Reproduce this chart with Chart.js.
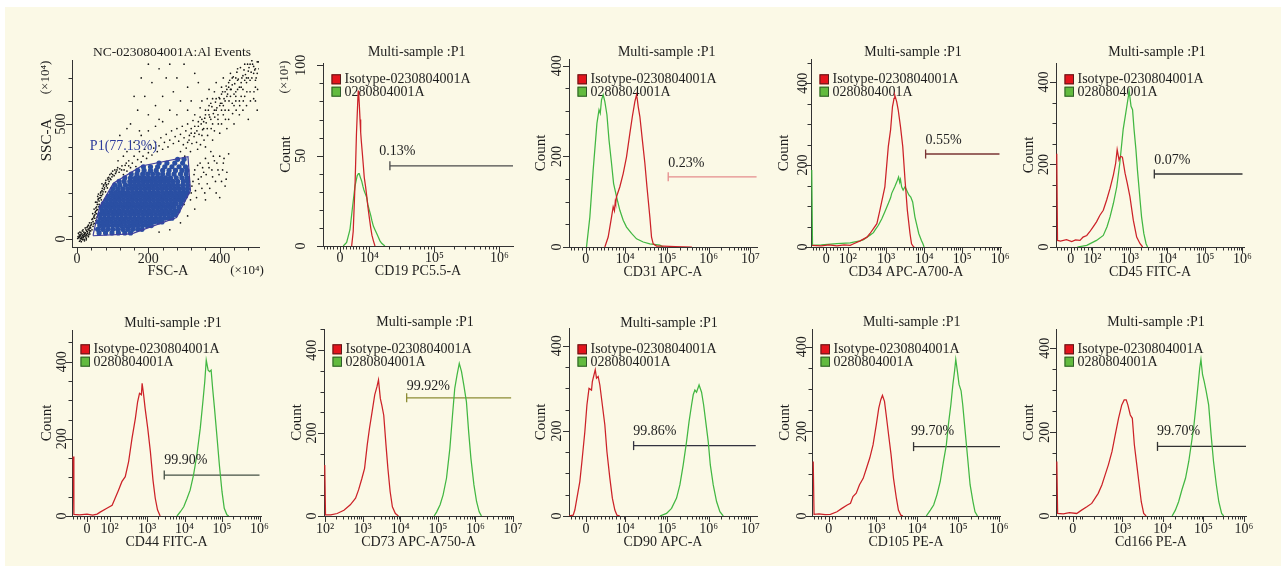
<!DOCTYPE html>
<html><head><meta charset="utf-8">
<script src="https://cdn.jsdelivr.net/npm/chart.js@4.4.1/dist/chart.umd.min.js"></script>
<style>
html,body{margin:0;padding:0;background:#ffffff;}
#bg{position:absolute;left:5px;top:7px;width:1276px;height:559px;background:#fbf9e6;}
#wrap{position:absolute;left:0;top:0;width:1286px;height:573px;overflow:hidden;}
canvas{position:absolute;}
</style></head><body><div id="bg"></div><div id="wrap"></div>
<script>
// ---------- scatter (FSC-A vs SSC-A, units ×10^4) ----------
const scatXLabPos = [0, 200, 400];
const scatXLab = ['0', '200', '400'];
const scatYLabPos = [0, 500];
const scatYLab = ['0', '500'];
const gateP1X = [45, 153, 279, 318, 311, 181, 102, 64, 50, 45];
const gateP1Y = [14, 22, 93, 210, 358, 317, 242, 140, 53, 14];
const blackPts = [
 [5,5],[8,12],[10,3],[12,8],[15,15],[6,18],[18,6],[20,12],[14,22],[22,20],[9,-5],[16,-3],[25,8],[11,28],[24,26],[28,15],[19,30],[3,10],[13,0],[30,25],[7,-10],[21,-8],[27,35],[17,40],[33,18],[35,30],[4,25],[26,2],[31,42],[23,48],
 [2,2],[6,8],[9,15],[11,20],[14,5],[17,10],[19,18],[21,25],[24,14],[27,20],[29,32],[15,35],[8,30],[20,-2],[12,-12],[26,-4],[32,10],[34,38],[36,22],[38,35],
 [30,55],[35,70],[40,62],[42,85],[45,75],[48,100],[50,90],[52,120],[54,110],[55,140],[58,128],[57,150],[62,165],[60,175],[66,180],[68,170],[72,195],[70,210],[76,215],[80,205],[82,230],[85,222],[88,240],[90,250],[95,258],[98,270],[104,275],[108,285],[112,300],[118,290],[45,55],[38,48],[42,40],[36,52],[50,68],[53,80],[56,95],[48,130],[52,160],[60,195],[66,200],[74,230],[80,245],[86,265],[92,280],[100,295],[62,150],[58,185],[44,110],[70,240],
 [25,40],[28,50],[32,60],[34,46],[38,58],[40,70],[44,88],[46,65],[47,95],[50,105],[51,115],[53,135],[55,125],[56,160],[59,170],[61,140],[63,178],[65,190],[67,205],[69,188],[71,220],[73,205],[75,235],[77,222],[79,240],[81,255],[83,236],[87,258],[89,268],[93,262],[96,285],[100,280],[106,300],[110,292],[114,310],[120,305],[126,318],[132,300],[138,330],[145,318],
 [125,300],[130,280],[135,320],[140,295],[145,340],[150,310],[155,330],[160,360],[165,315],[170,345],[175,380],[180,335],[185,360],[190,390],[195,350],[200,375],[205,410],[210,365],[215,395],[220,420],[225,380],[230,405],[235,440],[240,390],[245,420],[250,455],[255,400],[260,430],[265,470],[270,415],[275,445],[280,480],[285,425],[290,455],[295,490],[300,440],[305,470],[310,500],[315,450],[320,480],[325,515],[330,460],[140,380],[160,420],[180,450],[200,470],[220,490],[240,510],[115,340],[130,360],
 [335,420],[340,490],[345,530],[350,450],[355,510],[360,560],[365,480],[370,540],[375,590],[380,500],[385,560],[390,610],[395,520],[400,580],[405,630],[410,540],[415,600],[420,650],[425,560],[430,620],[435,670],[440,580],[445,640],[450,690],[455,600],[460,660],[465,710],[470,620],[475,680],[480,730],[485,640],[490,700],[495,750],[500,660],[505,720],[508,770],[350,600],[370,650],[390,680],[410,700],[430,720],[450,740],[470,760],[490,775],[455,540],[475,580],[495,610],[505,560],[440,500],[420,480],[400,460],[380,430],[360,400],[480,520],[500,600],[465,560],[445,600],[425,520],[405,500],[385,470],[445,700],[425,680],[405,660],[385,640],[365,610],[345,570],[330,540],[500,690],[510,740],[485,690],[460,620],[435,590],[415,560],[395,540],[375,520],[355,480],
 [290,380],[298,410],[306,395],[314,430],[322,415],[328,445],[336,470],[342,455],[348,500],[352,475],[358,525],[362,505],[368,560],[372,530],[378,575],[382,545],[388,595],[392,570],[398,615],[402,590],[408,640],[412,610],[418,665],[422,630],[428,690],[432,650],[438,705],[442,675],[448,725],[452,695],[458,745],[462,700],[468,735],[472,715],[478,760],[482,745],[488,725],[492,760],[498,735],[502,700],[506,650],[496,640],[486,600],[476,640],[466,600],[456,580],[446,560],[436,545],[426,600],[416,520],[406,590],[396,500],[386,530],[376,480],[366,450],[356,430],[346,410],[338,390],[318,380],[302,360],[470,690],[480,700],[460,680],[450,650],[440,630],[430,650],[420,620],[410,580],[400,610],[390,560],[380,610],[370,580],[360,540],[350,520],[340,510],[330,490],[320,460],[310,420],[500,740],[505,770],[495,720],[485,760],[475,700],[465,650],[455,660],[445,620],[435,700],[425,660],[415,640],[405,560],
 [150,500],[170,560],[190,620],[210,680],[230,740],[250,700],[270,640],[290,600],[310,660],[330,720],[160,620],[180,700],[200,760],[220,580],[240,620],[260,560],[280,700],[300,760],[320,600],[340,680],[200,540],[260,760],[230,520],[280,540],[310,560],[120,450],[140,480],[175,470],
 [320,200],[325,250],[330,300],[335,180],[340,260],[345,330],[350,220],[355,290],[360,350],[365,240],[370,310],[375,380],[380,270],[385,340],[390,200],[395,300],[400,360],[405,250],[410,330],[420,290],[425,370],[415,230],[360,170],[400,180],
 [318,170],[322,230],[328,280],[332,210],[338,320],[342,240],[348,270],[352,310],[358,200],[362,280],[368,330],[372,220],[378,300],[382,360],[388,250],[392,330],[398,280],[408,300],[412,350],[418,260],
 [260,40],[290,70],[310,100],[330,130],[230,30],[300,150]
];
const blueRowY = [26,42,58,74,90,106,122,138,154,170,186,202,218,234,250,266,282,298,314,330,346];
const blueRowX = [
 [62,80,98,116,134,150],
 [58,72,86,100,114,128,142,156,170,182],
 [64,76,88,100,112,124,136,148,160,172,184,196,208],
 [60,72,84,96,108,120,132,144,156,168,180,192,204,216,228,238],
 [66,78,90,102,114,126,138,150,162,174,186,198,210,222,234,246,258,266],
 [64,76,88,100,112,124,136,148,160,172,184,196,208,220,232,244,256,268,276],
 [70,82,94,106,118,130,142,154,166,178,190,202,214,226,238,250,262,274,283],
 [68,80,92,104,116,128,140,152,164,176,188,200,212,224,236,248,260,272,286],
 [74,86,98,110,122,134,146,158,170,182,194,206,218,230,242,254,266,278,292],
 [82,94,106,118,130,142,154,166,178,190,202,214,226,238,250,262,274,286,298],
 [88,100,112,124,136,148,160,172,184,196,208,220,232,244,256,268,280,292,304],
 [96,108,120,132,144,156,168,180,192,204,216,228,240,252,264,276,288,300,309],
 [100,114,128,142,154,166,178,190,202,214,226,238,250,262,274,286,298,310],
 [106,120,136,150,162,174,186,198,210,222,234,246,258,270,282,296,310],
 [118,132,148,160,172,184,196,208,220,232,244,256,268,282,298,310],
 [134,150,164,176,188,200,212,224,236,248,262,278,294,308],
 [152,168,184,198,212,226,240,256,272,290,306],
 [170,188,206,222,240,258,276,294,308],
 [186,206,226,246,266,286,304],
 [230,252,274,296],
 [282,300]
];

// ---------- histograms: [display position (decades), count] ----------
const cd19Iso = [[3.726,0],[3.75,8],[3.78,36],[3.80,62],[3.82,80],[3.828,86],[3.835,84],[3.843,79],[3.855,70],[3.865,63],[3.875,58],[3.889,52],[3.905,45],[3.92,38],[3.94,33],[3.957,28],[3.975,22],[3.997,16],[4.02,10],[4.038,6],[4.06,3],[4.085,0]];
const cd19Pos = [[3.597,0],[3.649,2],[3.70,9],[3.741,22],[3.777,33],[3.80,37],[3.812,39],[3.83,40],[3.843,40],[3.86,38],[3.88,36],[3.90,33],[3.915,31],[3.935,29],[3.957,27],[3.975,23],[3.997,20],[4.02,17],[4.038,14],[4.06,11],[4.085,9],[4.11,7],[4.136,5],[4.16,3],[4.188,1.5],[4.238,0]];
const cd31Iso = [[3.51,0],[3.59,22],[3.67,66],[3.71,89],[3.74,80],[3.76,100],[3.77,96],[3.79,111],[3.87,133],[3.95,162],[4.03,199],[4.11,251],[4.17,288],[4.23,321],[4.27,336],[4.29,325],[4.31,310],[4.35,288],[4.41,236],[4.47,185],[4.52,133],[4.59,66],[4.63,22],[4.67,7],[4.75,2],[4.9,2],[5.2,1],[5.6,0]];
const cd31Pos = [[3.07,0],[3.15,66],[3.23,170],[3.32,273],[3.37,303],[3.40,295],[3.43,325],[3.47,336],[3.51,321],[3.56,292],[3.61,236],[3.67,185],[3.72,140],[3.79,111],[3.87,81],[3.95,59],[4.03,44],[4.15,30],[4.27,18],[4.43,11],[4.59,7],[4.83,4],[4.91,0]];
const cd34Iso = [[1.06,4],[1.3,3],[1.5,5],[1.71,3],[1.9,5],[2.06,4],[2.15,8],[2.32,15],[2.50,24],[2.58,33],[2.67,45],[2.76,57],[2.83,86],[2.97,147],[3.06,245],[3.12,286],[3.17,343],[3.19,352],[3.21,363],[3.23,371],[3.28,355],[3.32,335],[3.38,294],[3.44,245],[3.50,163],[3.56,90],[3.63,33],[3.67,8],[3.71,2],[3.73,0]];
const cd34Pos = [[1.05,188],[1.07,4],[1.3,5],[1.71,8],[2.06,10],[2.15,12],[2.32,15],[2.41,18],[2.50,24],[2.58,29],[2.67,35],[2.71,41],[2.80,53],[2.89,69],[2.97,86],[3.06,106],[3.12,120],[3.15,131],[3.23,147],[3.30,163],[3.33,171],[3.36,158],[3.38,165],[3.41,147],[3.45,139],[3.50,147],[3.54,139],[3.60,127],[3.65,122],[3.70,110],[3.76,73],[3.80,57],[3.86,33],[3.93,16],[3.97,8],[4.0,0]];
const cd45Iso = [[1.05,226],[1.07,16],[1.15,14],[1.31,18],[1.45,13],[1.55,17],[1.67,16],[1.75,24],[1.85,28],[1.93,37],[2.02,49],[2.11,61],[2.20,77],[2.29,89],[2.38,114],[2.47,142],[2.56,175],[2.62,203],[2.66,236],[2.71,211],[2.75,220],[2.80,218],[2.87,179],[2.93,154],[3.00,122],[3.09,65],[3.18,24],[3.27,8],[3.34,0]];
const cd45Pos = [[1.60,0],[1.85,4],[2.11,16],[2.29,28],[2.39,49],[2.47,73],[2.56,106],[2.65,146],[2.73,203],[2.82,285],[2.89,325],[2.96,366],[2.98,378],[3.03,341],[3.07,333],[3.11,285],[3.16,236],[3.20,187],[3.27,114],[3.31,73],[3.37,33],[3.43,8],[3.47,0]];
const cd44Iso = [[1.03,154],[1.05,4],[1.2,3],[1.4,5],[1.55,2],[1.67,5],[1.75,10],[1.93,20],[2.07,28],[2.15,46],[2.24,67],[2.33,89],[2.42,102],[2.51,141],[2.60,201],[2.69,253],[2.75,296],[2.80,318],[2.85,314],[2.87,344],[2.91,314],[2.95,279],[3.02,227],[3.09,167],[3.16,93],[3.22,46],[3.28,16],[3.35,0]];
const cd44Pos = [[3.80,0],[3.89,11],[3.98,24],[4.07,46],[4.15,67],[4.24,106],[4.33,158],[4.42,227],[4.49,296],[4.54,348],[4.58,404],[4.63,378],[4.67,374],[4.71,378],[4.75,331],[4.80,279],[4.87,201],[4.93,132],[5.00,63],[5.06,20],[5.13,3],[5.18,0]];
const cd73Iso = [[1.99,123],[2.01,3],[2.15,3],[2.32,6],[2.50,14],[2.67,27],[2.81,43],[2.89,63],[2.98,91],[3.05,115],[3.12,171],[3.18,211],[3.25,251],[3.32,292],[3.38,312],[3.42,328],[3.47,283],[3.51,267],[3.56,243],[3.62,171],[3.67,115],[3.73,59],[3.79,22],[3.87,6],[3.95,0]];
const cd73Pos = [[4.90,0],[4.97,10],[5.06,27],[5.14,51],[5.23,91],[5.32,163],[5.39,243],[5.45,308],[5.51,340],[5.57,368],[5.63,348],[5.69,316],[5.76,276],[5.82,203],[5.88,139],[5.96,75],[6.03,35],[6.10,10],[6.16,0]];
const cd90Iso = [[2.65,0],[2.75,2],[2.79,14],[2.84,42],[2.91,81],[2.96,128],[3.03,198],[3.08,261],[3.13,300],[3.19,296],[3.21,316],[3.24,328],[3.28,344],[3.31,324],[3.35,328],[3.39,308],[3.45,261],[3.51,214],[3.56,151],[3.63,89],[3.69,42],[3.75,14],[3.80,2],[3.87,0]];
const cd90Pos = [[4.83,0],[4.99,6],[5.11,18],[5.23,42],[5.31,73],[5.39,120],[5.47,175],[5.53,222],[5.59,261],[5.63,285],[5.67,296],[5.71,291],[5.77,308],[5.83,291],[5.88,261],[5.93,222],[5.99,175],[6.04,120],[6.11,73],[6.19,34],[6.27,10],[6.35,0]];
const cd105Iso = [[1.46,129],[1.48,4],[1.6,5],[1.75,3],[1.88,4],[2.04,10],[2.16,18],[2.29,26],[2.37,30],[2.43,46],[2.51,54],[2.59,74],[2.68,89],[2.76,113],[2.84,137],[2.92,168],[3.00,216],[3.06,255],[3.11,275],[3.15,285],[3.20,271],[3.24,240],[3.30,192],[3.36,145],[3.42,89],[3.49,42],[3.54,14],[3.60,2],[3.65,0]];
const cd105Pos = [[4.22,0],[4.32,14],[4.40,26],[4.48,50],[4.56,81],[4.64,129],[4.71,168],[4.76,216],[4.82,263],[4.87,311],[4.91,342],[4.94,370],[4.98,342],[5.02,311],[5.07,296],[5.11,263],[5.17,200],[5.23,137],[5.29,74],[5.36,34],[5.41,10],[5.47,0]];
const cd166Iso = [[1.39,130],[1.41,6],[1.55,5],[1.7,8],[1.88,6],[2.00,14],[2.13,22],[2.25,30],[2.33,42],[2.41,54],[2.50,74],[2.58,98],[2.66,122],[2.75,154],[2.83,194],[2.91,233],[2.99,265],[3.05,277],[3.10,277],[3.14,265],[3.20,241],[3.25,233],[3.30,170],[3.36,122],[3.42,74],[3.47,34],[3.53,6],[3.59,0]];
const cd166Pos = [[4.23,0],[4.31,14],[4.39,34],[4.47,62],[4.56,90],[4.64,130],[4.70,170],[4.76,210],[4.82,265],[4.87,313],[4.91,353],[4.94,373],[4.98,337],[5.02,321],[5.07,297],[5.13,265],[5.19,194],[5.25,130],[5.32,74],[5.38,34],[5.45,6],[5.50,0]];

// gates: [start, end, count level] and percentages
const cd19Gate = [4.315, 6.21, 44.4], cd19Pct = '0.13%';
const cd31Gate = [5.03, 7.15, 155], cd31Pct = '0.23%';
const cd34Gate = [4.04, 5.98, 227], cd34Pct = '0.55%';
const cd45Gate = [3.65, 6.0, 177], cd45Pct = '0.07%';
const cd44Gate = [3.46, 6.0, 106], cd44Pct = '99.90%';
const cd73Gate = [4.17, 6.95, 285], cd73Pct = '99.92%';
const cd90Gate = [4.2, 7.13, 165.5], cd90Pct = '99.86%';
const cd105Gate = [3.91, 6.02, 164], cd105Pct = '99.70%';
const cd166Gate = [3.87, 6.05, 166], cd166Pct = '99.70%';

// tick labels
const cd19XPos = [3.546, 4, 5, 6], cd19XLab = ['0','10⁴','10⁵','10⁶'];
const cd31XPos = [3.05, 4, 5, 6, 7], cd31XLab = ['0','10⁴','10⁵','10⁶','10⁷'];
const cd34XPos = [1.43, 2, 3, 4, 5, 6], cd34XLab = ['0','10²','10³','10⁴','10⁵','10⁶'];
const cd45XPos = [1.42, 2, 3, 4, 5, 6], cd45XLab = ['0','10²','10³','10⁴','10⁵','10⁶'];
const cd44XPos = [1.4, 2, 3, 4, 5, 6], cd44XLab = ['0','10²','10³','10⁴','10⁵','10⁶'];
const cd73XPos = [2, 3, 4, 5, 6, 7], cd73XLab = ['10²','10³','10⁴','10⁵','10⁶','10⁷'];
const cd90XPos = [3.06, 4, 5, 6, 7], cd90XLab = ['0','10⁴','10⁵','10⁶','10⁷'];
const cd105XPos = [1.84, 3, 4, 5, 6], cd105XLab = ['0','10³','10⁴','10⁵','10⁶'];
const cd166XPos = [1.78, 3, 4, 5, 6], cd166XLab = ['0','10³','10⁴','10⁵','10⁶'];
const cd19YPos = [0, 50, 100], cd19YLab = ['0','50','100'];
const countYPos = [0, 200, 400], countYLab = ['0','200','400'];
const seriesNames = ['Isotype-0230804001A', '0280804001A'];

// ---------- layout / style ----------
Chart.defaults.font.family = "'Liberation Serif','Times New Roman',serif";
Chart.defaults.font.size = 14;
Chart.defaults.color = '#1e1e1e';
const SERIF = "'Liberation Serif','Times New Roman',serif";
const RED = '#cc2228', GREEN = '#42b742';

const panels = [
 {box:[323,63,513,246], xmin:3.285, xmax:6.21, xPos:cd19XPos, xLab:cd19XLab, zero:3.546, lin:0.05, logStart:4,
  ymax:101.3, yStep:10, yPos:cd19YPos, yLab:cd19YLab, yPad:11, ytPad:2.4, xtPad:2.3, xlPad:4,
  iso:cd19Iso, pos:cd19Pos, gate:cd19Gate, pct:cd19Pct, gateColor:'#4a4a4a', pctAt:[4.15,52.3],
  xTitle:'CD19 PC5.5-A', title:[416.7,52], legTop:74.3, unit:['(×10¹)',285,77]},
 {box:[569,59,757,247], xmin:2.65, xmax:7.16, xPos:cd31XPos, xLab:cd31XLab, zero:3.05, lin:0.09, logStart:4,
  ymax:415, yStep:50, yPos:countYPos, yLab:countYLab, yPad:1.5, ytPad:11.4, xtPad:2.3, xlPad:4,
  iso:cd31Iso, pos:cd31Pos, gate:cd31Gate, pct:cd31Pct, gateColor:'#e58c8c', pctAt:[5.03,184],
  xTitle:'CD31 APC-A', title:[666.7,52], legTop:74.3},
 {box:[811,59,1001,247], xmin:1.03, xmax:6.02, xPos:cd34XPos, xLab:cd34XLab, zero:1.43, lin:0.09, logStart:2,
  ymax:459, yStep:50, yPos:countYPos, yLab:countYLab, yPad:-2.5, ytPad:12.3, xtPad:2.3, xlPad:4,
  iso:cd34Iso, pos:cd34Pos, gate:cd34Gate, pct:cd34Pct, gateColor:'#7a3434', pctAt:[4.04,261],
  xTitle:'CD34 APC-A700-A', title:[913,52.5], legTop:74.3},
 {box:[1056,63,1244,247], xmin:1.03, xmax:6.04, xPos:cd45XPos, xLab:cd45XLab, zero:1.42, lin:0.09, logStart:2,
  ymax:446, yStep:50, yPos:countYPos, yLab:countYLab, yPad:1.5, ytPad:12.3, xtPad:2.3, xlPad:4,
  iso:cd45Iso, pos:cd45Pos, gate:cd45Gate, pct:cd45Pct, gateColor:'#333333', pctAt:[3.65,211],
  xTitle:'CD45 FITC-A', title:[1157,52.5], legTop:74.3},
 {box:[72,330,261,516], xmin:1.0, xmax:6.04, xPos:cd44XPos, xLab:cd44XLab, zero:1.4, lin:0.09, logStart:2,
  ymax:482, yStep:50, yPos:countYPos, yLab:countYLab, yPad:-0.5, ytPad:14, xtPad:1.3, xlPad:5,
  iso:cd44Iso, pos:cd44Pos, gate:cd44Gate, pct:cd44Pct, gateColor:'#445044', pctAt:[3.46,143],
  xTitle:'CD44 FITC-A', title:[173,323], legTop:344.3},
 {box:[324,329,513,516], xmin:1.97, xmax:7.0, xPos:cd73XPos, xLab:cd73XLab, zero:null, lin:0, logStart:2,
  ymax:451, yStep:50, yPos:countYPos, yLab:countYLab, yPad:0.8, ytPad:12.3, xtPad:1.3, xlPad:5,
  iso:cd73Iso, pos:cd73Pos, gate:cd73Gate, pct:cd73Pct, gateColor:'#8c8c34', pctAt:[4.17,312],
  xTitle:'CD73 APC-A750-A', title:[425,322.5], legTop:344.3},
 {box:[569,328,757,516], xmin:2.65, xmax:7.16, xPos:cd90XPos, xLab:cd90XLab, zero:3.06, lin:0.09, logStart:4,
  ymax:442, yStep:50, yPos:countYPos, yLab:countYLab, yPad:1.5, ytPad:11.4, xtPad:1.3, xlPad:5,
  iso:cd90Iso, pos:cd90Pos, gate:cd90Gate, pct:cd90Pct, gateColor:'#333340', pctAt:[4.19,198],
  xTitle:'CD90 APC-A', title:[669,323], legTop:344.3},
 {box:[812,329,1000,516], xmin:1.43, xmax:6.02, xPos:cd105XPos, xLab:cd105XLab, zero:1.84, lin:0.09, logStart:2,
  ymax:442, yStep:50, yPos:countYPos, yLab:countYLab, yPad:-0.5, ytPad:12.3, xtPad:1.3, xlPad:5,
  iso:cd105Iso, pos:cd105Pos, gate:cd105Gate, pct:cd105Pct, gateColor:'#333333', pctAt:[3.85,200],
  xTitle:'CD105 PE-A', title:[911.7,322.5], legTop:344.3},
 {box:[1056,329,1246,516], xmin:1.37, xmax:6.05, xPos:cd166XPos, xLab:cd166XLab, zero:1.78, lin:0.09, logStart:2,
  ymax:446, yStep:50, yPos:countYPos, yLab:countYLab, yPad:0.5, ytPad:12.3, xtPad:1.3, xlPad:5,
  iso:cd166Iso, pos:cd166Pos, gate:cd166Gate, pct:cd166Pct, gateColor:'#333333', pctAt:[3.86,201.5],
  xTitle:'Cd166 PE-A', title:[1156,322.5], legTop:344.3}
];

function makeCanvas(box) {
  const [L,T,R,B] = box;
  const c = document.createElement('canvas');
  const w = R - L + 72, h = B - T + 90;
  c.width = w; c.height = h;
  c.style.left = (L - 56) + 'px'; c.style.top = (T - 50) + 'px';
  c.style.width = w + 'px'; c.style.height = h + 'px';
  document.getElementById('wrap').appendChild(c);
  return {c, ox: L - 56, oy: T - 50};
}

function buildXTicks(p) {
  const out = p.xPos.map((v, i) => ({value: v, major: true, lab: p.xLab[i]}));
  const minors = [];
  if (p.lin) {
    for (let v = p.zero - p.lin; v >= p.xmin; v -= p.lin) minors.push(v);
    for (let v = p.zero + p.lin; v < p.logStart - 0.03; v += p.lin) minors.push(v);
  }
  for (let d = p.logStart; d < p.xmax; d++) {
    minors.push(d);
    for (let k = 2; k <= 9; k++) minors.push(d + Math.log10(k));
  }
  minors.forEach(v => {
    if (v < p.xmin || v > p.xmax) return;
    if (out.some(o => Math.abs(o.value - v) < 0.03)) return;
    out.push({value: v, major: false, lab: ''});
  });
  return out.sort((a, b) => a.value - b.value);
}
function buildYTicks(max, step, pos, lab) {
  const out = [];
  for (let i = 0; i * step <= max + 1e-9; i++) {
    const v = i * step;
    const j = pos.indexOf(v);
    out.push({value: v, major: j >= 0, lab: j >= 0 ? lab[j] : ''});
  }
  return out;
}

const tickMarks = {
  id: 'tickMarks',
  afterDraw(chart) {
    const ctx = chart.ctx, ca = chart.chartArea;
    ctx.save();
    ctx.strokeStyle = '#333'; ctx.lineWidth = 1;
    ['x','y'].forEach(id => {
      const sc = chart.scales[id];
      sc.ticks.forEach(t => {
        const p = Math.round(sc.getPixelForValue(t.value)) + 0.5;
        const len = t.major ? 6 : 3.5;
        ctx.beginPath();
        if (id === 'x') { ctx.moveTo(p, ca.bottom); ctx.lineTo(p, ca.bottom + len); }
        else { ctx.moveTo(ca.left, p); ctx.lineTo(ca.left - len, p); }
        ctx.stroke();
      });
    });
    ctx.restore();
  }
};

function drawText(ctx, t, x, y, size, opts) {
  opts = opts || {};
  ctx.save();
  ctx.font = size + 'px ' + SERIF;
  ctx.fillStyle = opts.color || '#1e1e1e';
  ctx.textAlign = opts.align || 'center';
  ctx.textBaseline = 'middle';
  ctx.translate(x, y);
  if (opts.rot) ctx.rotate(opts.rot);
  ctx.fillText(t, 0, 0);
  ctx.restore();
}

function axisCommon(min, max, ticksFn, cb) {
  return {
    type: 'linear', min, max,
    grid: {display: false, drawTicks: false},
    border: {display: true, color: '#333', width: 1},
    afterBuildTicks: s => { s.ticks = ticksFn().map(o => Object.assign({}, o)); },
    ticks: Object.assign({autoSkip: false, color: '#1e1e1e', font: {size: 14},
      callback: (v, i, t) => (t[i] && t[i].lab) || ''}, cb)
  };
}

// ---------- histogram panels ----------
panels.forEach(p => {
  const {c, ox, oy} = makeCanvas(p.box);
  const xt = buildXTicks(p);
  const yt = buildYTicks(p.ymax, p.yStep, p.yPos, p.yLab);
  const deco = {
    id: 'deco',
    beforeDatasetsDraw(chart) {
      const ctx = chart.ctx, ca = chart.chartArea;
      const bx = ca.left + 8.5, by = p.legTop - oy;
      [[ '#e5141c', '#5a1a1a'], ['#62bb3e', '#2f5a2a']].forEach((col, i) => {
        const yy = by + i * 12.4;
        ctx.fillStyle = col[0];
        ctx.fillRect(bx, yy, 9.5, 10);
        ctx.strokeStyle = col[1]; ctx.lineWidth = 1;
        ctx.strokeRect(bx + 0.5, yy + 0.5, 8.5, 9);
        drawText(ctx, seriesNames[i], bx + 13, yy + 5.5, 14, {align: 'left'});
      });
    },
    afterDraw(chart) {
      const ctx = chart.ctx;
      drawText(ctx, 'Multi-sample :P1', p.title[0] - ox, p.title[1] - oy, 14);
      if (p.unit) drawText(ctx, p.unit[0], p.unit[1] - ox, p.unit[2] - oy, 13, {rot: -Math.PI / 2});
      const sx = chart.scales.x, sy = chart.scales.y;
      drawText(ctx, p.pct, sx.getPixelForValue(p.pctAt[0]), sy.getPixelForValue(p.pctAt[1]), 14, {align: 'left'});
    }
  };
  const toXY = a => a.map(d => ({x: d[0], y: d[1]}));
  new Chart(c, {
    type: 'line',
    data: {datasets: [
      {data: toXY(p.iso), borderColor: RED, borderWidth: 1.25, pointRadius: 0, tension: 0, fill: false},
      {data: toXY(p.pos), borderColor: GREEN, borderWidth: 1.25, pointRadius: 0, tension: 0, fill: false},
      {data: [{x: p.gate[0], y: p.gate[2]}, {x: p.gate[1], y: p.gate[2]}], borderColor: p.gateColor, borderWidth: 1.3,
       pointStyle: 'line', pointRadius: [4.5, 0], pointRotation: 90, pointBorderColor: p.gateColor, pointBorderWidth: 1.3, fill: false}
    ]},
    options: {
      responsive: false, maintainAspectRatio: false, animation: false, devicePixelRatio: 1, events: [],
      layout: {padding: {left: 8, top: 50, right: 16, bottom: 4}},
      plugins: {legend: {display: false}, tooltip: {enabled: false}},
      scales: {
        x: Object.assign(axisCommon(p.xmin, p.xmax, () => xt, {minRotation: 0, maxRotation: 0, padding: p.xlPad}), {
          afterFit: s => { s.height = 36; },
          title: {display: true, text: p.xTitle, font: {size: 14}, color: '#1e1e1e', padding: {top: 0, bottom: p.xtPad}}
        }),
        y: Object.assign(axisCommon(0, p.ymax, () => yt, {minRotation: 90, maxRotation: 90, crossAlign: 'center', padding: p.yPad}), {
          afterFit: s => { s.width = 48; },
          title: {display: true, text: 'Count', font: {size: 15}, color: '#1e1e1e', padding: {top: p.ytPad, bottom: 0}}
        })
      }
    },
    plugins: [tickMarks, deco]
  });
});

// ---------- scatter panel ----------
(function () {
  const box = [72, 60, 259, 247];
  const {c, ox, oy} = makeCanvas(box);
  const xt = [];
  for (let v = 0; v <= 480; v += 40) { const j = scatXLabPos.indexOf(v); xt.push({value: v, major: j >= 0, lab: j >= 0 ? scatXLab[j] : ''}); }
  const yt = [];
  for (let v = 0; v <= 700; v += 100) { const j = scatYLabPos.indexOf(v); yt.push({value: v, major: j >= 0, lab: j >= 0 ? scatYLab[j] : ''}); }
  const blue = [];
  blueRowY.forEach((y, i) => blueRowX[i].forEach(x => blue.push({x, y})));
  const black = blackPts.map(d => ({x: d[0], y: d[1]}));
  const gate = gateP1X.map((x, i) => ({x, y: gateP1Y[i]}));
  const deco = {
    id: 'deco',
    afterDraw(chart) {
      const ctx = chart.ctx;
      drawText(ctx, 'NC-0230804001A:Al Events', 172 - ox, 52 - oy, 13.5);
      drawText(ctx, '(×10⁴)', 45.5 - ox, 77.5 - oy, 13, {rot: -Math.PI / 2});
      drawText(ctx, 'SSC-A', 46.7 - ox, 140 - oy, 15, {rot: -Math.PI / 2});
      drawText(ctx, 'FSC-A', 168 - ox, 271 - oy, 14.5);
      drawText(ctx, '(×10⁴)', 247 - ox, 271 - oy, 13);
      const sx = chart.scales.x, sy = chart.scales.y;
      drawText(ctx, 'P1(77.13%)', sx.getPixelForValue(36), sy.getPixelForValue(404), 14, {align: 'left', color: '#2d3c9c'});
    }
  };
  new Chart(c, {
    type: 'scatter',
    data: {datasets: [
      {type: 'line', data: gate, borderColor: '#3d3f9e', borderWidth: 1.2, pointRadius: 0, tension: 0, fill: false},
      {data: blue, pointRadius: 2.6, backgroundColor: '#2a4fa3', borderWidth: 0, pointBorderWidth: 0},
      {data: black, pointRadius: 0.85, backgroundColor: '#151515', borderWidth: 0, pointBorderWidth: 0}
    ]},
    options: {
      responsive: false, maintainAspectRatio: false, animation: false, devicePixelRatio: 1, events: [],
      layout: {padding: {left: 8, top: 50, right: 16, bottom: 4}},
      plugins: {legend: {display: false}, tooltip: {enabled: false}},
      scales: {
        x: Object.assign(axisCommon(-14, 510, () => xt, {minRotation: 0, maxRotation: 0, padding: 4}), {
          afterFit: s => { s.height = 36; }, title: {display: false}
        }),
        y: Object.assign(axisCommon(-35, 778, () => yt, {minRotation: 90, maxRotation: 90, crossAlign: 'center', padding: -0.2}), {
          afterFit: s => { s.width = 48; }, title: {display: false}
        })
      }
    },
    plugins: [tickMarks, deco]
  });
})();
</script>
</body></html>
